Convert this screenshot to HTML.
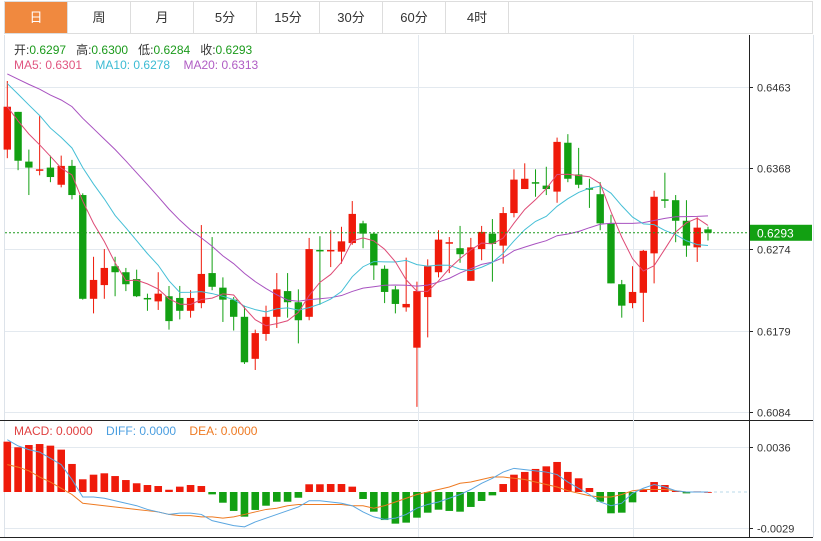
<!DOCTYPE html>
<html><head><meta charset="utf-8">
<style>
body{margin:0;background:#fff;font-family:"Liberation Sans","Noto Sans CJK SC",sans-serif;}
#wrap{position:relative;width:821px;height:541px;overflow:hidden;}
.tabs{position:absolute;left:4px;top:1px;height:33px;width:809px;border:1px solid #ddd;border-bottom:1px solid #ddd;box-sizing:border-box;display:flex;}
.tab{width:63px;height:31px;line-height:31px;text-align:center;font-size:13px;color:#333;border-right:1px solid #ddd;box-sizing:border-box;}
.tab.on{background:#f0893f;color:#fff;}
.info{position:absolute;left:14px;font-size:12px;white-space:nowrap;}
.g{color:#1b9a1b}.k{color:#333}
</style></head><body>
<div id="wrap">
<div class="tabs">
<div class="tab on">日</div>
<div class="tab">周</div>
<div class="tab">月</div>
<div class="tab">5分</div>
<div class="tab">15分</div>
<div class="tab">30分</div>
<div class="tab">60分</div>
<div class="tab">4时</div>
</div>
<svg id="svg" width="821" height="541" style="position:absolute;left:0;top:0"></svg>
<div class="info" style="top:41px"><span class="k">开:</span><span class="g">0.6297</span>&nbsp;&nbsp; <span class="k">高:</span><span class="g">0.6300</span>&nbsp;&nbsp; <span class="k">低:</span><span class="g">0.6284</span>&nbsp;&nbsp; <span class="k">收:</span><span class="g">0.6293</span></div>
<div class="info" style="top:58px"><span style="color:#e05580">MA5: 0.6301</span>&nbsp;&nbsp;&nbsp; <span style="color:#3bbbd3">MA10: 0.6278</span>&nbsp;&nbsp;&nbsp; <span style="color:#b05cc4">MA20: 0.6313</span></div>
<div class="info" style="top:424px"><span style="color:#e04040">MACD: 0.0000</span>&nbsp;&nbsp;&nbsp; <span style="color:#4a9ee0">DIFF: 0.0000</span>&nbsp;&nbsp;&nbsp; <span style="color:#ee7a22">DEA: 0.0000</span></div>
</div>
<script>
const opens=[0.6390,0.6434,0.6376,0.6366,0.6369,0.6349,0.6371,0.6337,0.6216,0.6232,0.6254,0.6247,0.6239,0.6217,0.6213,0.6219,0.6217,0.6202,0.6211,0.6246,0.6229,0.6215,0.6195,0.6146,0.6175,0.6195,0.6225,0.6212,0.6195,0.6273,0.6272,0.6271,0.6281,0.6304,0.6292,0.6251,0.6227,0.6206,0.6159,0.6218,0.6247,0.6281,0.6275,0.6237,0.6274,0.6292,0.6278,0.6316,0.6344,0.6352,0.6348,0.6341,0.6398,0.6361,0.6345,0.6338,0.6304,0.6233,0.6211,0.6223,0.6269,0.6332,0.6331,0.6307,0.6276,0.6297];
const highs=[0.6470,0.6434,0.6390,0.6429,0.6383,0.6383,0.6378,0.6339,0.6265,0.6274,0.6265,0.6252,0.6250,0.6222,0.6247,0.6231,0.6231,0.6226,0.6302,0.6288,0.6241,0.6218,0.6208,0.6180,0.6208,0.6246,0.6246,0.6227,0.6287,0.6289,0.6296,0.6300,0.6330,0.6307,0.6293,0.6255,0.6231,0.6264,0.6236,0.6262,0.6296,0.6288,0.6301,0.6287,0.6301,0.6309,0.6323,0.6367,0.6374,0.6367,0.6370,0.6404,0.6408,0.6392,0.6356,0.6352,0.6314,0.6238,0.6254,0.6273,0.6342,0.6363,0.6337,0.6331,0.6311,0.6300];
const lows=[0.6380,0.6366,0.6337,0.6360,0.6352,0.6346,0.6332,0.6215,0.6199,0.6216,0.6219,0.6225,0.6218,0.6202,0.6203,0.6180,0.6192,0.6194,0.6205,0.6226,0.6189,0.6179,0.6140,0.6133,0.6167,0.6182,0.6194,0.6164,0.6191,0.6209,0.6253,0.6257,0.6279,0.6275,0.6238,0.6211,0.6199,0.6201,0.6090,0.6171,0.6241,0.6246,0.6258,0.6237,0.6261,0.6236,0.6257,0.6311,0.6344,0.6335,0.6337,0.6328,0.6352,0.6345,0.6322,0.6296,0.6234,0.6194,0.6205,0.6189,0.6234,0.6322,0.6282,0.6265,0.6259,0.6284];
const closes=[0.6440,0.6377,0.6369,0.6367,0.6358,0.6371,0.6337,0.6216,0.6238,0.6252,0.6247,0.6233,0.6219,0.6216,0.6222,0.6190,0.6202,0.6217,0.6245,0.6230,0.6215,0.6195,0.6142,0.6176,0.6195,0.6227,0.6212,0.6191,0.6274,0.6272,0.6273,0.6283,0.6315,0.6292,0.6255,0.6224,0.6210,0.6210,0.6225,0.6254,0.6285,0.6282,0.6268,0.6276,0.6294,0.6280,0.6316,0.6355,0.6356,0.6351,0.6344,0.6399,0.6356,0.6349,0.6344,0.6304,0.6234,0.6208,0.6224,0.6272,0.6335,0.6331,0.6307,0.6278,0.6299,0.6293];
const priorCloses=[0.6500,0.6490,0.6480,0.6495,0.6485,0.6492,0.6488,0.6480,0.6495,0.6490,0.6500,0.6495,0.6490,0.6505,0.6480,0.6460,0.6445,0.6430,0.6425];
const macdHist=[0.00404,0.00359,0.00377,0.00385,0.00372,0.00340,0.00225,0.00102,0.00139,0.00150,0.00128,0.00096,0.00070,0.00056,0.00048,0.00018,0.00043,0.00056,0.00048,-0.00019,-0.00086,-0.00152,-0.00198,-0.00144,-0.00110,-0.00078,-0.00078,-0.00046,0.00062,0.00062,0.00064,0.00064,0.00043,-0.00056,-0.00158,-0.00225,-0.00254,-0.00246,-0.00206,-0.00166,-0.00142,-0.00152,-0.00158,-0.00120,-0.00072,-0.00027,0.00064,0.00139,0.00161,0.00185,0.00206,0.00241,0.00161,0.00110,0.00032,-0.00078,-0.00171,-0.00166,-0.00083,0.00021,0.00080,0.00056,0.00008,-0.00011,0.00005,0.00000];
const diffVals=[0.0042,0.0037,0.0034,0.0032,0.0027,0.0022,0.0010,-0.0004,-0.0004,-0.0005,-0.0007,-0.0009,-0.0011,-0.0014,-0.0016,-0.0018,-0.0017,-0.0017,-0.0018,-0.0023,-0.0025,-0.0027,-0.0028,-0.0024,-0.0021,-0.0018,-0.0015,-0.0012,-0.0007,-0.0007,-0.0008,-0.0009,-0.0011,-0.0016,-0.0020,-0.0022,-0.0021,-0.0018,-0.0013,-0.0010,-0.0008,-0.0005,-0.0002,0.0002,0.0007,0.0011,0.0016,0.0019,0.0018,0.0017,0.0016,0.0014,0.0008,0.0003,-0.0002,-0.0008,-0.0011,-0.0009,-0.0001,0.0003,0.0006,0.0004,0.0001,0.0000,0.0000,0.0000];
const deaVals=[0.0022,0.0020,0.0017,0.0012,0.0008,0.0003,-0.0002,-0.0009,-0.0010,-0.0011,-0.0012,-0.0013,-0.0014,-0.0015,-0.0016,-0.0018,-0.0019,-0.0019,-0.0020,-0.0020,-0.0021,-0.0020,-0.0018,-0.0016,-0.0014,-0.0013,-0.0011,-0.0010,-0.0010,-0.0010,-0.0010,-0.0010,-0.0011,-0.0011,-0.0013,-0.0011,-0.0008,-0.0005,-0.0002,0.0000,0.0002,0.0004,0.0007,0.0008,0.0010,0.0012,0.0012,0.0011,0.0010,0.0008,0.0006,0.0004,0.0001,-0.0001,-0.0003,-0.0004,-0.0004,-0.0002,0.0001,0.0002,0.0002,0.0002,0.0001,0.0000,0.0000,0.0000];
const priceTicks=[0.6463,0.6368,0.6274,0.6179,0.6084];
const macdTicks=[0.0036,-0.0029];
const lastPrice=0.6293;

const NS='http://www.w3.org/2000/svg';
const svg=document.getElementById('svg');
function mk(tag,attrs,name,inter){const e=document.createElementNS(NS,tag);for(const k in attrs)e.setAttribute(k,attrs[k]);


svg.appendChild(e);return e;}
const xOf=i=>7.3+i*10.78;
const yP=p=>87+(0.6463-p)*8575;
const yM=v=>492-v*12460;

// frame
mk('line',{x1:4.5,y1:35,x2:4.5,y2:537,stroke:'#dde3ea'},'left-border');
mk('line',{x1:749.5,y1:35,x2:749.5,y2:537,stroke:'#222'},'price-axis-line');
mk('line',{x1:813.5,y1:35,x2:813.5,y2:537,stroke:'#dde3ea'},'right-border');
mk('line',{x1:0,y1:420.5,x2:813,y2:420.5,stroke:'#222'},'panel-separator');
mk('line',{x1:0,y1:537.5,x2:813,y2:537.5,stroke:'#222'},'bottom-border');
[418,633].forEach((x,j)=>{mk('line',{x1:x+.5,y1:35,x2:x+.5,y2:537,stroke:'#e3e9ef'},'v-grid-'+j);});
priceTicks.forEach((t,j)=>{const y=Math.round(yP(t))+.5;
mk('line',{x1:5,y1:y,x2:749,y2:y,stroke:'#e3e9ef'},'price-grid-'+j);
mk('line',{x1:749,y1:y,x2:753,y2:y,stroke:'#222'},'price-tick-'+j);
const t2=mk('text',{x:757,y:y+4,'font-size':11,fill:'#333','font-family':'Liberation Sans'},'price-tick-label');t2.textContent=t.toFixed(4);});
macdTicks.forEach((t,j)=>{const y=Math.round(yM(t))+.5;
mk('line',{x1:5,y1:y,x2:749,y2:y,stroke:'#e3e9ef'},'macd-grid-'+j);
mk('line',{x1:749,y1:y,x2:753,y2:y,stroke:'#222'},'macd-tick-'+j);
const t2=mk('text',{x:757,y:y+4,'font-size':11,fill:'#333','font-family':'Liberation Sans'},'macd-tick-label');t2.textContent=t.toFixed(4);});

// candles
for(let i=0;i<opens.length;i++){const up=closes[i]>=opens[i];const col=up?'#ef1a0a':'#12a012';const x=xOf(i);
mk('line',{x1:x,y1:yP(highs[i]),x2:x,y2:yP(lows[i]),stroke:col,'stroke-width':1},'candle-wick');
const yt=yP(Math.max(opens[i],closes[i])),yb=yP(Math.min(opens[i],closes[i]));
mk('rect',{x:x-3.7,y:yt,width:7.4,height:Math.max(1.5,yb-yt),fill:col},'candle-body');}

// MAs
const all=priorCloses.concat(closes);
function ma(n){const r=[];for(let i=0;i<closes.length;i++){let s=0;for(let k=0;k<n;k++)s+=all[i+priorCloses.length-k];r.push(s/n);}return r;}
[[20,'#a852c0','ma20-line'],[10,'#45bfd6','ma10-line'],[5,'#de4b76','ma5-line']].forEach(([n,c,nm])=>{
const v=ma(n);mk('polyline',{points:v.map((p,i)=>xOf(i)+','+yP(p)).join(' '),fill:'none',stroke:c,'stroke-width':1},nm);});

// last price line
const ly=yP(lastPrice);
mk('line',{x1:5,y1:ly,x2:749,y2:ly,stroke:'#1f9a1f','stroke-dasharray':'2,2'},'last-price-line');
mk('rect',{x:750,y:ly-8,width:62,height:16,fill:'#12a012'},'last-price-tag');
const lt=mk('text',{x:757,y:ly+4.5,'font-size':12,fill:'#fff','font-family':'Liberation Sans'},'last-price-label');lt.textContent=lastPrice.toFixed(4);

// MACD
mk('line',{x1:xOf(65),y1:492,x2:749,y2:492,stroke:'#b8d8ea','stroke-dasharray':'3,3'},'macd-zero-line');
macdHist.forEach((v,i)=>{const x=xOf(i);const y0=yM(0),y1=yM(v);
mk('rect',{x:x-3.8,y:Math.min(y0,y1),width:7.6,height:Math.max(0.8,Math.abs(y1-y0)),fill:v>=0?'#ef1a0a':'#12a012'},'macd-bar');});
mk('polyline',{points:deaVals.map((v,i)=>xOf(i)+','+yM(v)).join(' '),fill:'none',stroke:'#ee7a22','stroke-width':1},'dea-line');
mk('polyline',{points:diffVals.map((v,i)=>xOf(i)+','+yM(v)).join(' '),fill:'none',stroke:'#5aa6e0','stroke-width':1},'diff-line');
</script>
</body></html>
